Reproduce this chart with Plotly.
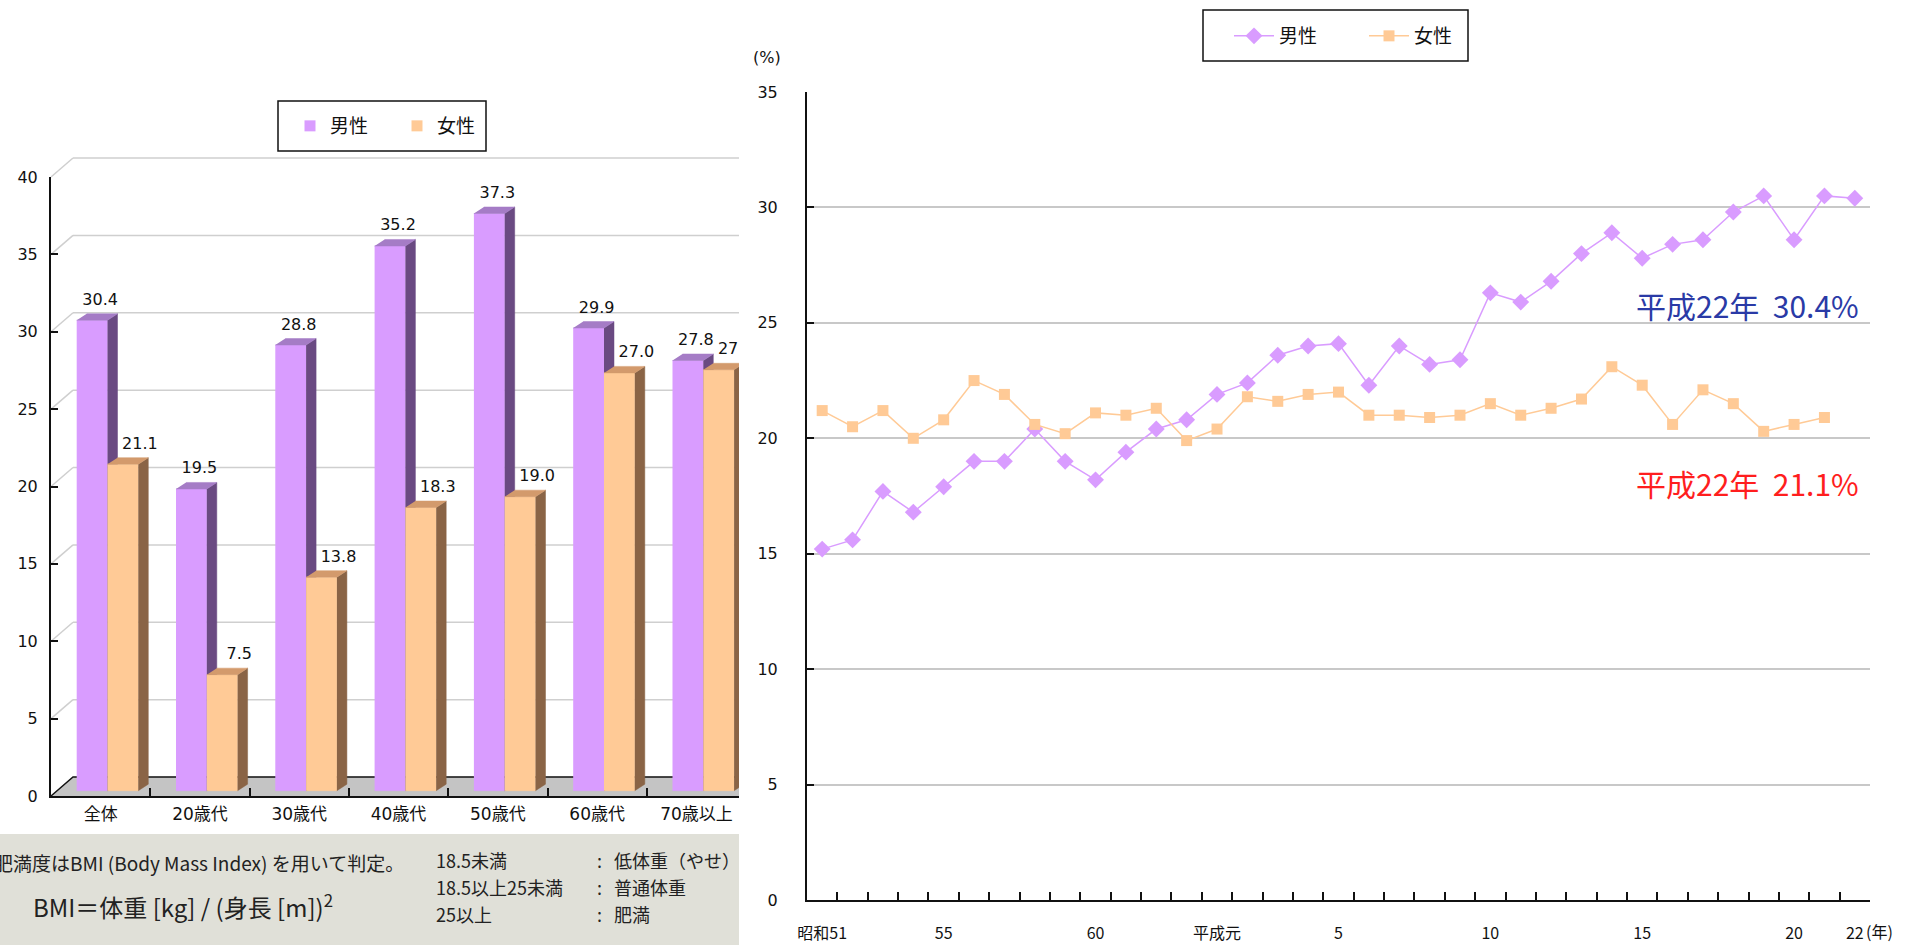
import plotly.graph_objects as go

W, H = 1915, 945

# ---------------- data ----------------
# obesity rate (BMI >= 25) by age group, 2010
age_groups = ["全体", "20歳代", "30歳代", "40歳代", "50歳代", "60歳代", "70歳以上"]
male_by_age = [30.4, 19.5, 28.8, 35.2, 37.3, 29.9, 27.8]
female_by_age = [21.1, 7.5, 13.8, 18.3, 19.0, 27.0, 27.2]

# yearly trend of obesity rate
years = (["昭和%d" % y for y in range(51, 64)] + ["平成元"] +
         ["平成%d" % y for y in range(2, 23)])
year_tick_labels = {0: "昭和51", 4: "55", 9: "60", 13: "平成元", 17: "5",
                    22: "10", 27: "15", 32: "20", 34: "22"}
male_trend = [15.2, 15.6, 17.7, 16.8, 17.9, 19.0, 19.0, 20.4, 19.0, 18.2,
              19.4, 20.4, 20.8, 21.9, 22.4, 23.6, 24.0, 24.1, 22.3, 24.0,
              23.2, 23.4, 26.3, 25.9, 26.8, 28.0, 28.9, 27.8, 28.4, 28.6,
              29.8, 30.5, 28.6, 30.5, 30.4]
female_trend = [21.2, 20.5, 21.2, 20.0, 20.8, 22.5, 21.9, 20.6, 20.2, 21.1,
                21.0, 21.3, 19.9, 20.4, 21.8, 21.6, 21.9, 22.0, 21.0, 21.0,
                20.9, 21.0, 21.5, 21.0, 21.3, 21.7, 23.1, 22.3, 20.6, 22.1,
                21.5, 20.3, 20.6, 20.9, None]

bmi_rules = ["18.5未満", "18.5以上25未満", "25以上"]
bmi_classes = ["低体重（やせ）", "普通体重", "肥満"]

# ---------------- styling ----------------
MALE = "#d99cff"
MALE_SIDE = "#6a4a82"
MALE_TOP = "#a57cc6"
FEMALE = "#ffca96"
FEMALE_SIDE = "#8a6446"
FEMALE_TOP = "#d39a6c"
GRID = "#cfcfcf"
FLOOR = "#c4c4c4"
FONT_NUM = "DejaVu Sans, Noto Sans CJK JP"
FONT_JP = "Noto Sans CJK JP, DejaVu Sans"


def fx(p):
    return p / W


def fy(p):
    return 1 - p / H


# pixel geometry of the 3D column panel
CAT_PX = 99.3        # px per category
UNIT_PX = 15.475     # px per percent
AX_X, AX_Y = 51, 796  # front-left corner of the floor


def dx(p):
    return p / CAT_PX


def dy(p):
    return p / UNIT_PX


WALL_DX, WALL_DY = dx(22), dy(19)
BAR_W = dx(30.8)
BAR_SHIFT = dx(25.7) - 0.5
BAR_BASE = dy(5.3)
BAR_DX, BAR_DY = dx(10), dy(6.5)
X_LO = -0.5 + (45 - AX_X) / CAT_PX
X_HI = -0.5 + (739 - AX_X) / CAT_PX

fig = go.Figure()


def poly_trace(xs, ys, color, **kw):
    return go.Scatter(x=xs, y=ys, mode="lines", fill="toself", fillcolor=color,
                      line=dict(color=color, width=0.5), hoverinfo="skip",
                      showlegend=False, xaxis="x", yaxis="y", **kw)


# floor
fig.add_trace(poly_trace([-0.5, X_HI + 1, X_HI + 1, -0.5 + WALL_DX, None],
                         [0, 0, WALL_DY, WALL_DY, None], FLOOR))

# back wall grid and its left diagonals
gx, gy, ddx_, ddy_ = [], [], [], []
for v in range(5, 45, 5):
    gx += [-0.5 + WALL_DX, X_HI + 1, None]
    gy += [v + WALL_DY, v + WALL_DY, None]
    ddx_ += [-0.5, -0.5 + WALL_DX, None]
    ddy_ += [v, v + WALL_DY, None]
fig.add_trace(go.Scatter(x=gx + ddx_, y=gy + ddy_, mode="lines",
                         line=dict(color=GRID, width=1.5), hoverinfo="skip",
                         showlegend=False, xaxis="x", yaxis="y"))
# back and left edge of the floor
fig.add_trace(go.Scatter(x=[-0.5, -0.5 + WALL_DX, X_HI + 1],
                         y=[0, WALL_DY, WALL_DY], mode="lines",
                         line=dict(color="#111111", width=1.5), hoverinfo="skip",
                         showlegend=False, xaxis="x", yaxis="y"))


def bar_faces(lefts, vals):
    front, side, top = ([], []), ([], []), ([], [])
    for l, v in zip(lefts, vals):
        r = l + BAR_W
        b = BAR_BASE
        t = BAR_BASE + v
        front[0].extend([l, r, r, l, None])
        front[1].extend([b, b, t, t, None])
        side[0].extend([r, r + BAR_DX, r + BAR_DX, r, None])
        side[1].extend([b, b + BAR_DY, t + BAR_DY, t, None])
        top[0].extend([l, r, r + BAR_DX, l + BAR_DX, None])
        top[1].extend([t, t, t + BAR_DY, t + BAR_DY, None])
    return front, side, top


male_left = [i + BAR_SHIFT for i in range(len(age_groups))]
female_left = [l + BAR_W for l in male_left]

for lefts, vals, cols in [(male_left, male_by_age, (MALE, MALE_SIDE, MALE_TOP)),
                          (female_left, female_by_age, (FEMALE, FEMALE_SIDE, FEMALE_TOP))]:
    front, side, top = bar_faces(lefts, vals)
    fig.add_trace(poly_trace(front[0], front[1], cols[0]))
    fig.add_trace(poly_trace(side[0], side[1], cols[1]))
    fig.add_trace(poly_trace(top[0], top[1], cols[2]))

# value labels above columns
label_font = dict(family=FONT_NUM, size=16, color="#111")
for lefts, vals, shift in [(male_left, male_by_age, dx(8)),
                           (female_left, female_by_age, dx(17))]:
    fig.add_trace(go.Scatter(
        x=[l + BAR_W / 2 + shift for l in lefts],
        y=[BAR_BASE + v + BAR_DY + dy(5) for v in vals],
        text=["%.1f" % v for v in vals], mode="text",
        textposition="top center", textfont=label_font,
        hoverinfo="skip", showlegend=False, xaxis="x", yaxis="y"))

# legend entries of the column panel
fig.add_trace(go.Scatter(x=[None], y=[None], mode="markers", name="男性",
                         marker=dict(symbol="square", size=11, color=MALE),
                         legend="legend2", xaxis="x", yaxis="y"))
fig.add_trace(go.Scatter(x=[None], y=[None], mode="markers", name="女性",
                         marker=dict(symbol="square", size=11, color=FEMALE),
                         legend="legend2", xaxis="x", yaxis="y"))

# front axes of the column panel
fig.add_trace(go.Scatter(x=age_groups, y=[None] * len(age_groups), mode="markers",
                         hoverinfo="skip", showlegend=False, xaxis="x2", yaxis="y2"))

# ---------------- trend panel ----------------
fig.add_trace(go.Scatter(x=years, y=male_trend, name="男性", mode="lines+markers",
                         line=dict(color=MALE, width=1.5),
                         marker=dict(symbol="diamond", size=13, color=MALE),
                         xaxis="x3", yaxis="y3"))
fig.add_trace(go.Scatter(x=years, y=female_trend, name="女性", mode="lines+markers",
                         line=dict(color=FEMALE, width=1.5),
                         marker=dict(symbol="square", size=11, color=FEMALE),
                         xaxis="x3", yaxis="y3"))

# ---------------- BMI note box ----------------
note_font = dict(family=FONT_JP, size=18, color="#222")
fig.add_trace(go.Scatter(
    x=[-6], y=[866], mode="text", textposition="middle right",
    text=["肥満度はBMI (Body Mass Index) を用いて判定。"],
    textfont=dict(family=FONT_JP, size=19, color="#222"),
    hoverinfo="skip", showlegend=False, xaxis="x4", yaxis="y4"))
fig.add_trace(go.Scatter(
    x=[33], y=[911], mode="text", textposition="middle right",
    text=["BMI＝体重 [kg] / (身長 [m])<sup>2</sup>"],
    textfont=dict(family=FONT_JP, size=24, color="#222"),
    hoverinfo="skip", showlegend=False, xaxis="x4", yaxis="y4"))
rule_rows = [863, 890, 917]
fig.add_trace(go.Scatter(
    x=[436] * 3, y=rule_rows, mode="text", textposition="middle right",
    text=bmi_rules, textfont=note_font,
    hoverinfo="skip", showlegend=False, xaxis="x4", yaxis="y4"))
fig.add_trace(go.Scatter(
    x=[597] * 3, y=rule_rows, mode="text", textposition="middle right",
    text=[":"] * 3, textfont=note_font,
    hoverinfo="skip", showlegend=False, xaxis="x4", yaxis="y4"))
fig.add_trace(go.Scatter(
    x=[614] * 3, y=rule_rows, mode="text", textposition="middle right",
    text=bmi_classes, textfont=note_font,
    hoverinfo="skip", showlegend=False, xaxis="x4", yaxis="y4"))

hidden = dict(visible=False, fixedrange=True, automargin=False)

fig.update_layout(
    width=W, height=H, margin=dict(l=0, r=0, t=0, b=0, autoexpand=False),
    paper_bgcolor="white", plot_bgcolor="rgba(0,0,0,0)",
    showlegend=True,
    # 3D drawing layer
    xaxis=dict(domain=[fx(45), fx(739)], range=[X_LO, X_HI], anchor="y", **hidden),
    yaxis=dict(domain=[fy(800), fy(140)],
               range=[(AX_Y - 800) / UNIT_PX, (AX_Y - 140) / UNIT_PX],
               anchor="x", **hidden),
    # front axes of the column chart
    xaxis2=dict(domain=[fx(51), fx(739)], anchor="y2", type="category",
                categoryorder="array", categoryarray=age_groups,
                range=[-0.5, X_HI], showline=True, linecolor="#111", linewidth=2,
                ticks="inside", ticklen=8, tickwidth=1.5, tickcolor="#111",
                tickson="boundaries", showgrid=False, zeroline=False,
                tickangle=0, automargin=False,
                tickfont=dict(family=FONT_NUM, size=17, color="#111"),
                ticklabelstandoff=2, fixedrange=True),
    yaxis2=dict(domain=[fy(796), fy(177)], anchor="x2", range=[0, 40], dtick=5,
                showline=True, linecolor="#111", linewidth=2,
                ticks="inside", ticklen=7, tickwidth=1.5, tickcolor="#111",
                showgrid=False, zeroline=False, automargin=False,
                tickfont=dict(family=FONT_NUM, size=16, color="#111"),
                ticklabelstandoff=8, fixedrange=True),
    # trend chart
    xaxis3=dict(domain=[fx(807), fx(1870)], anchor="y3", type="category",
                categoryorder="array", categoryarray=years, range=[-0.5, 34.5],
                tickmode="array", tickvals=years,
                ticktext=[year_tick_labels.get(i, "") for i in range(len(years))],
                showline=True, linecolor="#111", linewidth=2,
                ticks="inside", ticklen=8, tickwidth=1.5, tickcolor="#111",
                tickson="boundaries", showgrid=False, zeroline=False,
                tickangle=0, automargin=False,
                tickfont=dict(family=FONT_JP, size=16, color="#111"),
                ticklabelstandoff=18, fixedrange=True),
    yaxis3=dict(domain=[fy(900), fy(92)], anchor="x3", range=[0, 35], dtick=5,
                showline=True, linecolor="#111", linewidth=2,
                ticks="inside", ticklen=7, tickwidth=1.5, tickcolor="#111",
                showgrid=True, gridcolor="#c8c8c8", gridwidth=2, zeroline=False,
                automargin=False,
                tickfont=dict(family=FONT_NUM, size=16, color="#111"),
                ticklabelstandoff=24, fixedrange=True),
    # BMI note box
    xaxis4=dict(domain=[0, fx(739)], range=[0, 739], anchor="y4", **hidden),
    yaxis4=dict(domain=[0, fy(834)], range=[945, 834], anchor="x4", **hidden),
    legend=dict(x=fx(1364), y=fy(36), xanchor="center", yanchor="middle",
                orientation="h", bgcolor="rgba(0,0,0,0)", borderwidth=0,
                font=dict(family=FONT_JP, size=19, color="#111"),
                entrywidth=80, itemwidth=40),
    legend2=dict(x=fx(397), y=fy(126), xanchor="center", yanchor="middle",
                 orientation="h", bgcolor="rgba(0,0,0,0)", borderwidth=0,
                 font=dict(family=FONT_JP, size=19, color="#111"),
                 entrywidth=62, itemwidth=30),
    shapes=[
        dict(type="rect", xref="paper", yref="paper", layer="below",
             x0=0, x1=fx(739), y0=0, y1=fy(834),
             fillcolor="#e0e0d8", line=dict(width=0)),
        dict(type="rect", xref="paper", yref="paper",
             x0=fx(278), x1=fx(486), y0=fy(151), y1=fy(101),
             line=dict(color="#111", width=1.5)),
        dict(type="rect", xref="paper", yref="paper",
             x0=fx(1203), x1=fx(1468), y0=fy(61), y1=fy(10),
             line=dict(color="#111", width=1.5)),
    ],
    annotations=[
        dict(text="(%)", xref="paper", yref="paper", x=fx(767), y=fy(57),
             xanchor="center", yanchor="middle", showarrow=False,
             font=dict(family=FONT_NUM, size=16, color="#111")),
        dict(text="(年)", xref="paper", yref="paper", x=fx(1864), y=fy(931),
             xanchor="left", yanchor="middle", showarrow=False,
             font=dict(family=FONT_JP, size=16, color="#111")),
        dict(text="平成22年  30.4%", xref="paper", yref="paper",
             x=fx(1861), y=fy(305), xanchor="right", yanchor="middle",
             showarrow=False, font=dict(family=FONT_JP, size=30, color="#2a3aa6")),
        dict(text="平成22年  21.1%", xref="paper", yref="paper",
             x=fx(1861), y=fy(483), xanchor="right", yanchor="middle",
             showarrow=False, font=dict(family=FONT_JP, size=30, color="#ff1e1e")),
    ],
)

fig.write_html("out.html")
